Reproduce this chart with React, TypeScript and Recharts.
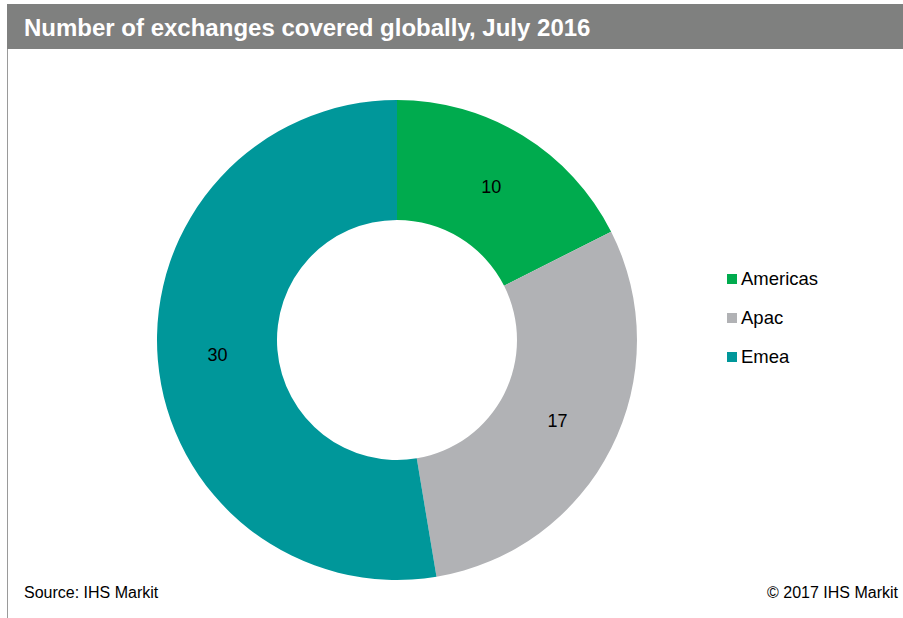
import React from 'react';
import { PieChart, Pie, Cell, Legend } from 'recharts';

const regions = ['Americas', 'Apac', 'Emea'];
const exchanges = [10, 17, 30];
const colors = ['#00AB4E', '#B1B2B5', '#00979A'];

const data = regions.map((name, i) => ({ name, value: exchanges[i] }));

const RADIAN = Math.PI / 180;

const renderLabel = (props: any) => {
  const { cx, cy, midAngle, innerRadius, outerRadius, value } = props;
  const r = (innerRadius + outerRadius) / 2;
  const x = cx + r * Math.cos(-midAngle * RADIAN);
  const y = cy + r * Math.sin(-midAngle * RADIAN);
  return (
    <text x={x} y={y} fill="#000" fontSize={18} textAnchor="middle" dominantBaseline="central">
      {value}
    </text>
  );
};

const renderLegend = (props: any) => {
  const { payload } = props;
  return (
    <div>
      {payload.map((entry: any) => (
        <div
          key={entry.value}
          style={{ display: 'flex', alignItems: 'center', height: 39, fontSize: 18.5, color: '#000' }}
        >
          <span style={{ width: 10, height: 10, background: entry.color, marginRight: 4, display: 'inline-block' }} />
          {entry.value}
        </div>
      ))}
    </div>
  );
};

const App: React.FC = () => {
  return (
    <div
      style={{
        position: 'absolute',
        left: 0,
        top: 0,
        width: 903,
        height: 618,
        background: '#fff',
        fontFamily: '"Liberation Sans", Arial, sans-serif',
        overflow: 'hidden',
      }}
    >
      <div
        style={{
          position: 'absolute',
          left: 7,
          top: 4,
          width: 896,
          height: 45,
          background: '#7F807F',
          color: '#fff',
          fontWeight: 'bold',
          fontSize: 24,
          lineHeight: '47px',
          paddingLeft: 17,
          boxSizing: 'border-box',
        }}
      >
        Number of exchanges covered globally, July 2016
      </div>
      <div style={{ position: 'absolute', left: 7, top: 49, width: 1, height: 569, background: '#9A9A9A' }} />
      <div style={{ position: 'absolute', left: 0, top: 0 }}>
        <PieChart width={903} height={618} margin={{ top: 0, right: 0, bottom: 0, left: 0 }}>
          <Pie
            data={data}
            dataKey="value"
            nameKey="name"
            cx={397}
            cy={340}
            innerRadius={120}
            outerRadius={240}
            startAngle={90}
            endAngle={-270}
            stroke="none"
            label={renderLabel}
            labelLine={false}
            isAnimationActive={false}
          >
            {data.map((d, i) => (
              <Cell key={d.name} fill={colors[i]} />
            ))}
          </Pie>
          <Legend
            layout="vertical"
            content={renderLegend}
            wrapperStyle={{ position: 'absolute', left: 727, top: 259, width: 150 }}
          />
        </PieChart>
      </div>
      <div style={{ position: 'absolute', left: 24, top: 584, fontSize: 16, color: '#000' }}>
        Source: IHS Markit
      </div>
      <div style={{ position: 'absolute', right: 5, top: 584, fontSize: 16, color: '#000' }}>
        © 2017 IHS Markit
      </div>
    </div>
  );
};

export default App;
